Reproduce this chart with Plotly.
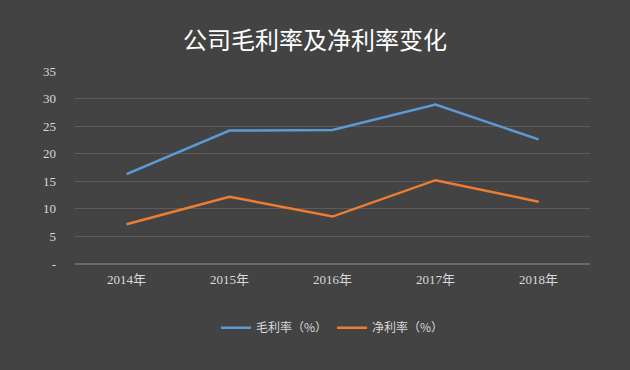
import plotly.graph_objects as go

years = ["2014年", "2015年", "2016年", "2017年", "2018年"]
gross_margin = [16.3, 24.2, 24.3, 28.9, 22.6]
net_margin = [7.2, 12.2, 8.6, 15.2, 11.3]
y_ticks = [0, 5, 10, 15, 20, 25, 30, 35]
y_ticktext = ["-", "5", "10", "15", "20", "25", "30", "35"]

fig = go.Figure()
fig.add_trace(go.Scatter(x=years, y=gross_margin, mode="lines", name="毛利率（%）",
                         line=dict(color="#5b9bd5", width=2.5)))
fig.add_trace(go.Scatter(x=years, y=net_margin, mode="lines", name="净利率（%）",
                         line=dict(color="#ed7d31", width=2.5)))

fig.update_layout(
    width=630, height=370,
    paper_bgcolor="#434343", plot_bgcolor="rgba(0,0,0,0)",
    margin=dict(l=75, r=40, t=71, b=106),
    title=dict(text="公司毛利率及净利率变化", x=0.5, xanchor="center", y=1 - 41 / 370, yanchor="middle",
               font=dict(family="Noto Sans CJK SC", size=24, color="#ffffff")),
    font=dict(family="Liberation Serif, Noto Sans CJK SC", color="#d9d9d9", size=13),
    xaxis=dict(range=[-0.5, 4.5], showgrid=False, showline=False, zeroline=False, ticks="",
               ticklabelstandoff=6,
               tickfont=dict(family="Liberation Serif, Noto Sans CJK SC", size=13, color="#d9d9d9")),
    yaxis=dict(range=[0, 35], tickvals=y_ticks, ticktext=y_ticktext, showgrid=True,
               gridcolor="#5c5c5c", gridwidth=1, zeroline=True, zerolinecolor="#6a6a6a",
               showline=False, ticks="", ticklabelstandoff=18,
               tickfont=dict(family="Liberation Serif, Noto Sans CJK SC", size=13, color="#d9d9d9")),
    legend=dict(orientation="h", x=0.5, xanchor="center", y=-0.33, yanchor="middle",
                font=dict(family="Noto Sans CJK SC", size=12, color="#d9d9d9"),
                bgcolor="rgba(0,0,0,0)", itemwidth=30, tracegroupgap=0),
    showlegend=True,
)
fig.write_html("out.html", config={"displayModeBar": False},
               post_script="document.body.style.margin='0';document.body.style.background='#434343';")
